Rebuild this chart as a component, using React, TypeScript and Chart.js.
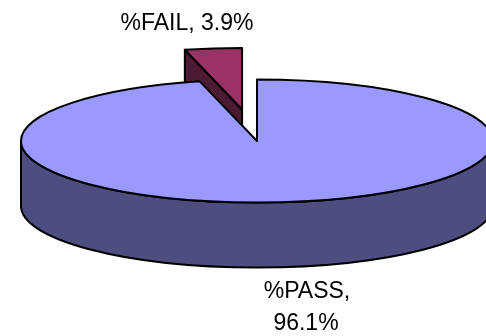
import React, { useEffect, useRef } from "react";
import { Chart, registerables } from "chart.js";

Chart.register(...registerables);

const categories = ["%PASS", "%FAIL"];
const shares = [96.1, 3.9];
const faceColors = ["#9999FF", "#993366"];
const sideColors = ["#4D4D80", "#4D1A33"];
const pullOut = [0, 122];

const PIE_RADIUS = 236;
const SQUASH = 0.2606;
const DEPTH = 65;
const LABEL_FONT = '23px "Liberation Sans", Arial, sans-serif';

// Draws the pie's arcs as tilted discs with a visible rim, using the angles
// and radius that the doughnut controller computed.
const tiltedPie = {
  id: "tiltedPie",
  beforeDatasetsDraw(chart: any) {
    const { ctx } = chart;
    const arcs = chart.getDatasetMeta(0).data.map((arc: any, i: number) => ({ arc, i }));
    arcs.sort((a: any, b: any) => pullOut[b.i] - pullOut[a.i]);

    for (const { arc, i } of arcs) {
      const { startAngle, endAngle, outerRadius, options } = arc;
      const mid = (startAngle + endAngle) / 2;
      const x = arc.x + Math.cos(mid) * options.offset;
      const y = arc.y + Math.sin(mid) * options.offset * SQUASH;
      const rx = outerRadius;
      const ry = outerRadius * SQUASH;
      const rimX = (a: number) => x + Math.cos(a) * rx;
      const rimY = (a: number) => y + Math.sin(a) * ry;

      ctx.save();
      ctx.lineWidth = options.borderWidth;
      ctx.strokeStyle = options.borderColor;
      ctx.lineJoin = "round";

      // Rim along the near half of the ellipse
      for (let k = -1; k <= 1; k++) {
        const lo = Math.max(startAngle, 2 * Math.PI * k);
        const hi = Math.min(endAngle, Math.PI + 2 * Math.PI * k);
        if (hi <= lo) continue;
        ctx.beginPath();
        ctx.ellipse(x, y, rx, ry, 0, lo, hi);
        ctx.ellipse(x, y + DEPTH, rx, ry, 0, hi, lo, true);
        ctx.closePath();
        ctx.fillStyle = sideColors[i];
        ctx.fill();
        ctx.stroke();
      }

      // Cut faces that turn towards the viewer
      for (const [angle, turn] of [
        [startAngle, -Math.PI / 2],
        [endAngle, Math.PI / 2],
      ]) {
        if (Math.sin(angle + turn) <= 1e-6) continue;
        ctx.beginPath();
        ctx.moveTo(x, y);
        ctx.lineTo(rimX(angle), rimY(angle));
        ctx.lineTo(rimX(angle), rimY(angle) + DEPTH);
        ctx.lineTo(x, y + DEPTH);
        ctx.closePath();
        ctx.fillStyle = sideColors[i];
        ctx.fill();
        ctx.stroke();
      }

      // Top face
      ctx.beginPath();
      ctx.moveTo(x, y);
      ctx.ellipse(x, y, rx, ry, 0, startAngle, endAngle);
      ctx.closePath();
      ctx.fillStyle = options.backgroundColor;
      ctx.fill();
      ctx.stroke();
      ctx.restore();
    }
    return false;
  },
  // Skipping the stock arcs also skips afterDatasetsDraw, so the labels go here
  afterDraw(chart: any) {
    const { ctx } = chart;
    ctx.save();
    ctx.font = LABEL_FONT;
    ctx.fillStyle = "#000000";
    ctx.textAlign = "center";
    ctx.textBaseline = "alphabetic";
    ctx.fillText(`${categories[1]}, ${shares[1]}%`, 187, 30);
    ctx.fillText(`${categories[0]},`, 307, 298);
    ctx.fillText(`${shares[0]}%`, 306, 330);
    ctx.restore();
  },
};

export default function App() {
  const canvasRef = useRef<HTMLCanvasElement | null>(null);

  useEffect(() => {
    document.body.style.margin = "0";
    const chart = new Chart(canvasRef.current as HTMLCanvasElement, {
      type: "pie",
      data: {
        labels: categories,
        datasets: [
          {
            data: shares,
            backgroundColor: faceColors,
            borderColor: "#000000",
            borderWidth: 2,
            offset: pullOut,
            radius: PIE_RADIUS,
          },
        ],
      },
      options: {
        responsive: false,
        animation: false,
        layout: { padding: { left: 28, bottom: 54 } },
        plugins: { legend: { display: false }, tooltip: { enabled: false } },
      },
      plugins: [tiltedPie],
    } as any);
    return () => chart.destroy();
  }, []);

  return <canvas ref={canvasRef} width={486} height={336} style={{ display: "block" }} />;
}
